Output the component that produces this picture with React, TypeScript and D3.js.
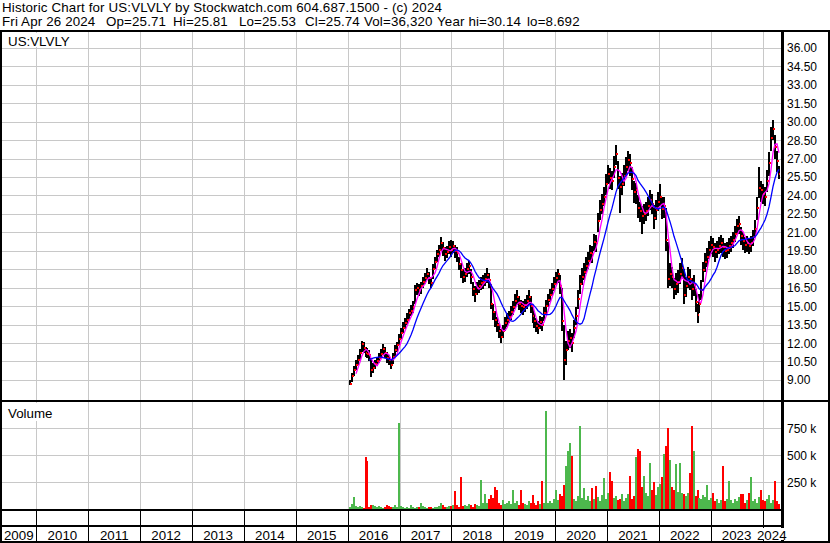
import React from "react";
import * as d3 from "d3";

const headerTitle = "Historic Chart for US:VLVLY by Stockwatch.com 604.687.1500 - (c) 2024";
const statTokens = ["Fri Apr 26 2024", "Op=25.71", "Hi=25.81", "Lo=25.53", "Cl=25.74", "Vol=36,320", "Year hi=30.14", "lo=8.692"];
const symbolLabel = "US:VLVLY";
const volumeLabel = "Volume";
const yearLabels = ["2009", "2010", "2011", "2012", "2013", "2014", "2015", "2016", "2017", "2018", "2019", "2020", "2021", "2022", "2023", "2024"];
const priceTicks = [36, 34.5, 33, 31.5, 30, 28.5, 27, 25.5, 24, 22.5, 21, 19.5, 18, 16.5, 15, 13.5, 12, 10.5, 9];
const volumeTicks = [250, 500, 750];
const firstBarDate = "2016-01-15";
const barStepDays = 14;

const closes = [
  8.7, 9.3, 9.8, 10.2, 10.6, 11.2, 11.9, 11.6, 11.2, 11.1, 11.0, 9.8, 10.0, 10.3, 10.5, 10.8, 11.1, 11.5, 11.2, 10.8,
  10.6, 10.2, 10.9, 11.4, 11.8, 12.3, 12.8, 13.2, 13.6, 13.9, 14.4, 14.6, 14.9, 16.3, 16.5, 16.3, 16.6, 17.0, 17.3, 17.6,
  17.3, 16.9, 18.0, 18.6, 19.2, 19.6, 20.1, 19.7, 19.2, 19.4, 19.8, 19.6, 19.9, 19.5, 19.3, 18.4, 17.9, 17.4, 17.6, 18.0,
  18.3, 17.4, 16.4, 16.0, 16.5, 16.6, 16.9, 17.0, 17.2, 17.5, 17.1, 15.2, 14.5, 13.9, 13.5, 13.0, 12.5, 13.0, 13.6, 13.9,
  14.1, 14.5, 14.9, 15.4, 15.7, 15.2, 15.0, 14.9, 15.1, 15.4, 15.7, 15.0, 14.2, 13.8, 13.4, 13.2, 13.7, 13.5, 14.4, 15.0,
  15.5, 15.9, 16.4, 16.8, 17.3, 17.6, 16.6, 13.8, 10.6, 11.4, 12.2, 12.4, 12.0, 13.2, 14.2, 15.6, 16.8, 17.4, 17.8, 18.3,
  18.7, 19.3, 19.2, 20.2, 20.1, 21.9, 22.8, 23.3, 23.9, 24.9, 25.7, 25.4, 25.2, 26.3, 27.4, 25.4, 24.7, 24.9, 25.6, 26.3,
  26.9, 26.6, 25.3, 24.3, 24.4, 23.0, 22.7, 22.3, 22.5, 22.7, 23.1, 23.6, 23.3, 22.2, 22.8, 23.5, 23.9, 22.9, 23.1, 20.4,
  17.2, 17.6, 17.4, 16.4, 16.8, 17.0, 17.6, 18.1, 15.9, 16.6, 17.4, 17.2, 16.4, 16.7, 15.3, 14.3, 15.2, 16.3, 17.9, 18.6,
  19.0, 19.6, 20.0, 19.8, 19.4, 19.6, 19.9, 20.1, 19.8, 19.5, 19.6, 19.9, 20.1, 20.4, 20.9, 21.5, 21.7, 20.7, 20.3, 20.0,
  20.1, 19.9, 20.1, 20.6, 21.3, 23.0, 24.6, 24.4, 24.1, 23.9, 25.2, 26.6, 28.7, 29.4, 27.9, 26.8, 25.7,
];

const highs = [
  9.0, 9.6, 10.1, 10.6, 11.0, 11.5, 12.2, 12.1, 11.7, 11.6, 11.4, 10.8, 10.4, 10.6, 10.9, 11.2, 11.5, 11.9, 11.7, 11.3,
  11.0, 10.7, 11.2, 11.8, 12.1, 12.7, 13.2, 13.7, 14.0, 14.4, 14.8, 15.1, 15.4, 16.7, 16.9, 16.8, 17.0, 17.4, 17.7, 18.1,
  17.8, 17.4, 18.4, 19.0, 19.6, 20.0, 20.6, 20.2, 19.8, 19.9, 20.3, 20.4, 20.3, 20.0, 19.8, 19.0, 18.5, 18.0, 18.1, 18.5,
  18.7, 18.0, 17.0, 16.6, 17.0, 17.1, 17.4, 17.5, 17.7, 18.1, 17.7, 16.8, 15.2, 14.6, 14.1, 13.6, 13.1, 13.5, 14.1, 14.4,
  14.6, 15.0, 15.4, 16.0, 16.3, 15.8, 15.5, 15.4, 15.6, 15.9, 16.3, 15.8, 14.9, 14.4, 14.0, 13.8, 14.2, 14.1, 14.9, 15.5,
  16.0, 16.4, 16.9, 17.4, 17.8, 18.0, 17.5, 16.5, 13.5, 12.2, 13.0, 13.1, 12.8, 13.9, 14.9, 16.3, 17.5, 18.1, 18.5, 19.0,
  19.4, 20.0, 19.9, 20.9, 20.8, 22.6, 23.6, 24.1, 24.7, 25.7, 26.5, 26.2, 26.0, 27.2, 28.1, 26.8, 25.6, 25.8, 26.5, 27.1,
  27.6, 27.4, 26.3, 25.2, 25.0, 24.0, 23.5, 23.1, 23.3, 23.5, 23.9, 24.4, 24.1, 23.2, 23.6, 24.3, 24.9, 23.9, 23.9, 23.0,
  20.2, 18.5, 18.2, 17.3, 17.7, 17.9, 18.5, 18.9, 18.0, 17.4, 18.2, 18.0, 17.3, 17.5, 16.4, 15.2, 16.0, 17.1, 18.6, 19.3,
  19.7, 20.3, 20.7, 20.5, 20.1, 20.3, 20.6, 20.8, 20.5, 20.1, 20.2, 20.5, 20.7, 21.0, 21.5, 22.1, 22.3, 21.4, 21.0, 20.6,
  20.7, 20.5, 20.7, 21.2, 22.0, 23.9, 26.3, 25.2, 24.9, 24.7, 26.1, 27.5, 29.6, 30.1, 28.9, 27.6, 26.4,
];

const lows = [
  8.6, 8.8, 9.3, 9.8, 10.2, 10.6, 11.3, 11.2, 10.9, 10.8, 10.5, 9.2, 9.6, 9.9, 10.1, 10.4, 10.7, 11.0, 10.8, 10.4,
  10.2, 9.9, 10.3, 10.9, 11.3, 11.8, 12.3, 12.8, 13.1, 13.5, 13.9, 14.2, 14.4, 15.2, 15.9, 15.8, 16.0, 16.5, 16.8, 17.1,
  16.8, 16.5, 17.2, 18.0, 18.6, 19.0, 19.5, 19.1, 18.7, 18.9, 19.2, 19.0, 19.3, 18.9, 18.6, 17.9, 17.3, 16.9, 17.0, 17.4,
  17.6, 16.8, 15.8, 15.3, 15.9, 16.1, 16.3, 16.4, 16.6, 16.9, 16.5, 14.8, 13.9, 13.3, 12.9, 12.4, 12.0, 12.4, 13.0, 13.3,
  13.6, 13.9, 14.3, 14.8, 15.1, 14.7, 14.4, 14.3, 14.5, 14.8, 15.1, 14.4, 13.6, 13.2, 12.9, 12.7, 13.1, 13.0, 13.8, 14.3,
  14.9, 15.3, 15.8, 16.2, 16.7, 16.9, 16.0, 13.0, 9.0, 10.2, 11.4, 11.6, 11.3, 12.4, 13.5, 14.8, 16.0, 16.7, 17.1, 17.6,
  18.0, 18.6, 18.5, 19.5, 19.4, 21.0, 22.0, 22.5, 23.1, 24.0, 24.9, 24.5, 24.4, 25.4, 26.5, 24.5, 22.6, 24.0, 24.8, 25.5,
  26.0, 25.6, 24.4, 23.4, 23.3, 22.2, 21.8, 20.9, 21.7, 21.9, 22.3, 22.8, 22.5, 21.3, 22.0, 22.7, 23.1, 22.1, 22.2, 19.5,
  16.5, 16.6, 16.5, 15.6, 15.9, 16.1, 16.8, 17.2, 15.2, 15.7, 16.5, 16.3, 15.5, 15.8, 14.5, 13.6, 14.4, 15.5, 17.0, 17.8,
  18.2, 18.8, 19.2, 19.0, 18.6, 18.9, 19.2, 19.3, 19.0, 18.8, 18.9, 19.2, 19.4, 19.7, 20.2, 20.8, 20.9, 20.0, 19.6, 19.3,
  19.4, 19.2, 19.4, 19.9, 20.5, 22.0, 23.8, 23.5, 23.3, 23.1, 24.3, 25.6, 27.6, 28.5, 27.0, 25.9, 25.3,
];

// thousands of shares
const volumes = [
  20, 45, 110, 30, 15, 25, 20, 10, 480, 445, 20, 35, 40, 25, 15, 30, 20, 10, 15, 35,
  25, 15, 20, 40, 15, 800, 30, 20, 10, 15, 10, 35, 15, 10, 20, 15, 60, 25, 15, 10,
  20, 15, 10, 15, 20, 30, 60, 40, 20, 15, 30, 25, 35, 170, 35, 20, 300, 25, 40, 30,
  50, 35, 20, 45, 40, 30, 270, 60, 140, 60, 90, 130, 100, 200, 180, 60, 40, 80, 50, 60,
  70, 45, 180, 55, 70, 40, 175, 60, 50, 40, 70, 55, 130, 60, 40, 75, 50, 260, 60, 910,
  60, 70, 55, 90, 180, 80, 140, 120, 220, 400, 535, 610, 490, 90, 70, 120, 770, 100, 190, 80,
  120, 70, 195, 90, 210, 110, 70, 130, 290, 90, 150, 340, 260, 100, 120, 80, 90, 140, 70, 100,
  140, 305, 90, 120, 480, 560, 540, 200, 310, 150, 120, 430, 180, 250, 130, 200, 230, 300, 510, 580,
  750, 450, 200, 180, 420, 160, 430, 150, 140, 120, 150, 330, 770, 540, 120, 180, 100, 90, 130, 110,
  220, 80, 100, 150, 70, 90, 60, 80, 400, 70, 90, 260, 80, 60, 90, 70, 110, 140, 140, 60,
  80, 150, 300, 70, 90, 60, 110, 180, 80, 70, 90, 130, 60, 80, 260, 70, 50,
];

const FAST_MA = 4;
const SLOW_MA = 11;

function sma(values: number[], n: number): [number, number][] {
  const out: [number, number][] = [];
  for (let i = n - 1; i < values.length; i++) {
    out.push([i, d3.mean(values.slice(i - n + 1, i + 1)) as number]);
  }
  return out;
}

const FONT = "'Liberation Sans', Arial, sans-serif";

export default function App() {
  const plotL = 1, plotR = 781;
  const x = d3.scaleTime().domain([new Date(2009, 3, 26), new Date(2024, 4, 10)]).range([plotL, plotR]);
  const y = d3.scaleLinear().domain([9, 36]).range([379.9, 47.8]);
  const vy = d3.scaleLinear().domain([0, 1000]).range([509, 401]);

  const start = d3.timeParse("%Y-%m-%d")(firstBarDate) as Date;
  const dates = closes.map((_, i) => d3.timeDay.offset(start, barStepDays * i));
  const bx = dates.map((d) => Math.round(x(d)));

  const yearStarts = yearLabels.map((yl) => new Date(+yl, 0, 1));
  const yearLines = yearStarts.slice(1).map((d) => Math.round(x(d)) + 0.5);

  const fast = sma(closes, FAST_MA);
  const slow = sma(closes, SLOW_MA);
  const line = d3.line<[number, number]>().x((p) => bx[p[0]]).y((p) => y(p[1]));

  const volColor = (i: number) => {
    if (i === 0) return "#4db84d";
    if (closes[i] > closes[i - 1]) return "#4db84d";
    if (closes[i] < closes[i - 1]) return "#ff0000";
    return "#a0a0a0";
  };

  const grid = "#c8c8c8";
  const statX = [2, 106, 173, 239, 305, 364, 437, 527];

  return (
    <svg width={830} height={543} style={{ position: "absolute", left: 0, top: 0, background: "#fff" }} fontFamily={FONT}>
      <rect x={0} y={0} width={830} height={543} fill="#fff" />
      {/* header */}
      <text x={2} y={12} fontSize={13.33} letterSpacing={0.15} fill="#000">{headerTitle}</text>
      {statTokens.map((t, i) => (
        <text key={t} x={statX[i]} y={26} fontSize={13.33} letterSpacing={0.15} fill="#000">{t}</text>
      ))}

      {/* grid */}
      <g shapeRendering="crispEdges">
        {priceTicks.map((p) => (
          <line key={p} x1={plotL} x2={plotR} y1={Math.round(y(p)) + 0.5} y2={Math.round(y(p)) + 0.5} stroke={grid} />
        ))}
        {yearLines.map((lx, i) => (
          <line key={i} x1={lx} x2={lx} y1={32} y2={400} stroke={grid} />
        ))}
        {volumeTicks.map((v) => (
          <line key={v} x1={plotL} x2={plotR} y1={Math.round(vy(v)) + 0.5} y2={Math.round(vy(v)) + 0.5} stroke={grid} />
        ))}
        {yearLines.map((lx, i) => (
          <line key={"v" + i} x1={lx} x2={lx} y1={402} y2={509} stroke={grid} />
        ))}
      </g>

      {/* label boxes */}
      <rect x={2} y={33} width={82} height={14} fill="#fff" />
      <text x={8} y={46} fontSize={13.33} fill="#000">{symbolLabel}</text>
      <rect x={2} y={403} width={58} height={18} fill="#fff" />
      <text x={8} y={418} fontSize={13.33} fill="#000">{volumeLabel}</text>

      {/* price bars */}
      <g shapeRendering="crispEdges">
        {closes.map((c, i) => (
          <rect key={"b" + i} x={bx[i] - 1} y={y(highs[i])} width={2} height={Math.max(1, y(lows[i]) - y(highs[i]))} fill="#000" />
        ))}
        {closes.map((c, i) => (
          <rect key={"c" + i} x={bx[i]} y={y(c) - 1} width={1} height={2} fill="#ff0000" />
        ))}
        {closes.map((c, i) =>
          i > 0 ? <rect key={"o" + i} x={bx[i] - 1} y={y(closes[i - 1]) - 1} width={1} height={2} fill="#ff0000" /> : null
        )}
      </g>
      <path d={line(fast) || ""} fill="none" stroke="#ff00ff" strokeWidth={1.3} />
      <path d={line(slow) || ""} fill="none" stroke="#0000ff" strokeWidth={1.3} />

      {/* volume bars */}
      <g shapeRendering="crispEdges">
        {volumes.map((v, i) => (
          <rect key={"vb" + i} x={bx[i] - 1} y={vy(v)} width={2} height={509 - vy(v)} fill={volColor(i)} />
        ))}
      </g>

      {/* axis labels */}
      {priceTicks.map((p) => (
        <text key={"pl" + p} x={787} y={y(p) + 4.5} fontSize={12} fill="#000">{p.toFixed(2)}</text>
      ))}
      {volumeTicks.map((v) => (
        <text key={"vl" + v} x={787} y={vy(v) + 4.5} fontSize={12} fill="#000">{v} k</text>
      ))}

      {/* frame */}
      <g shapeRendering="crispEdges" fill="#000">
        <rect x={0} y={30} width={830} height={2} />
        <rect x={0} y={30} width={2} height={513} />
        <rect x={828} y={30} width={2} height={513} />
        <rect x={0} y={541} width={830} height={2} />
        <rect x={781} y={30} width={2.5} height={513} />
        <rect x={0} y={400} width={830} height={2} />
        <rect x={0} y={509} width={782} height={2} />
        <rect x={0} y={525} width={782} height={2} />
      </g>
      <g shapeRendering="crispEdges">
        {yearLines.map((lx, i) => (
          <line key={"t" + i} x1={lx} x2={lx} y1={511} y2={541} stroke="#000" />
        ))}
      </g>
      {yearLabels.map((yl, i) => {
        const a = Math.max(plotL, x(yearStarts[i]));
        const b = i + 1 < yearStarts.length ? x(yearStarts[i + 1]) : plotR;
        const cx = (a + Math.min(b, plotR)) / 2;
        return (
          <g key={yl}>
            <rect x={cx - 14} y={528} width={28} height={12} fill="#fff" />
            <text x={cx} y={539.5} fontSize={13.33} textAnchor="middle" fill="#000">{yl}</text>
          </g>
        );
      })}
    </svg>
  );
}
